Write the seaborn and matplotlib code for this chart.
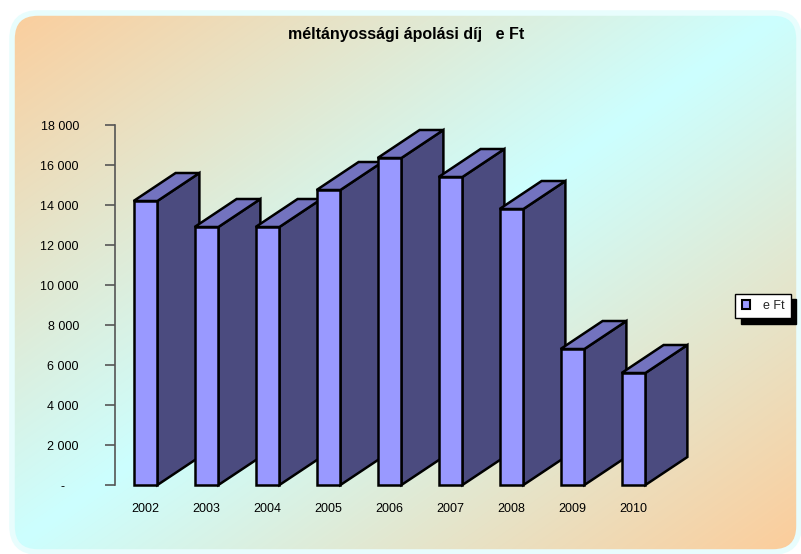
import numpy as np
import pandas as pd
import matplotlib
matplotlib.use("Agg")
import matplotlib.pyplot as plt
import seaborn as sns
from matplotlib.patches import FancyBboxPatch, Polygon, Patch

# ---- data ----
years = ["2002", "2003", "2004", "2005", "2006", "2007", "2008", "2009", "2010"]
values = [14200, 12900, 12900, 14750, 16350, 15400, 13800, 6800, 5600]
yticks = [0, 2000, 4000, 6000, 8000, 10000, 12000, 14000, 16000, 18000]
ytick_labels = ["-    ", "2 000", "4 000", "6 000", "8 000", "10 000",
                "12 000", "14 000", "16 000", "18 000"]
title = "méltányossági ápolási díj   e Ft"
legend_label = "e Ft"

sns.set_theme(style="white")
plt.rcParams["font.family"] = ["Liberation Sans", "DejaVu Sans"]

W, H = 801, 554
fig = plt.figure(figsize=(W / 100, H / 100), dpi=100)
fig.patch.set_facecolor("white")

# ---- background: rounded rectangle with diagonal gradient ----
bg = fig.add_axes([0, 0, 1, 1])
bg.set_xlim(0, W)
bg.set_ylim(H, 0)
bg.axis("off")
peach = np.array([253, 204, 153]) / 255
cyan = np.array([204, 255, 255]) / 255
yy, xx = np.mgrid[0:H, 0:W]
u = (xx / W + yy / H) / 2
t = np.clip(np.abs(u - 0.5) * 2, 0, 1)[..., None]
img = cyan + (peach - cyan) * t
rect = FancyBboxPatch((12, 13), W - 14, H - 15,
                      boxstyle="round,pad=0,rounding_size=26",
                      facecolor="none", edgecolor="#E8FDFD", linewidth=4)
bg.add_patch(rect)
im = bg.imshow(img, extent=(0, W, H, 0), interpolation="bilinear", zorder=0)
im.set_clip_path(rect)

# ---- main axes ----
ax = fig.add_axes([115 / W, 69 / H, 549 / W, 360 / H])
ax.patch.set_alpha(0)
df = pd.DataFrame({"year": years, "value": values})
front_col = "#9999FF"
side_col = "#4B4B7F"
top_col = "#7373BF"
sns.barplot(data=df, x="year", y="value", color=front_col, saturation=1,
            width=0.39, edgecolor="black", linewidth=1.8, ax=ax)
ax.set_xlim(-0.5, 8.5)
ax.set_ylim(0, 18000)

dx = 42 / 61.0          # depth in category units
dy = 28 / 20.0 * 1000   # depth in data units
for i, p in enumerate(ax.patches):
    x0 = p.get_x()
    x1 = x0 + p.get_width()
    h = p.get_height()
    p.set_zorder(3 + 2 * i)
    p.set_clip_on(False)
    side = Polygon([(x1, 0), (x1 + dx, dy), (x1 + dx, h + dy), (x1, h)],
                   closed=True, facecolor=side_col, edgecolor="black",
                   linewidth=1.8, joinstyle="miter", zorder=2 + 2 * i, clip_on=False)
    top = Polygon([(x0, h), (x0 + dx, h + dy), (x1 + dx, h + dy), (x1, h)],
                  closed=True, facecolor=top_col, edgecolor="black",
                  linewidth=1.8, joinstyle="miter", zorder=2 + 2 * i, clip_on=False)
    ax.add_patch(side)
    ax.add_patch(top)

for s in ["top", "right", "bottom"]:
    ax.spines[s].set_visible(False)
ax.spines["left"].set_color("#555555")
ax.spines["left"].set_linewidth(1.2)
ax.set_yticks(yticks)
ax.set_yticklabels(ytick_labels)
ax.tick_params(axis="y", length=7, width=1.2, color="#555555", direction="out",
               pad=19, labelsize=9, labelcolor="black", left=True)
ax.tick_params(axis="x", length=0, pad=13, labelsize=9, labelcolor="black")
ax.set_xlabel("")
ax.set_ylabel("")
ax.grid(False)

# ---- title ----
fig.text(406 / W, 1 - 34 / H, title, ha="center", va="center",
         fontsize=11.5, fontweight="bold", color="black")

# ---- legend ----
handle = Patch(facecolor=front_col, edgecolor="black", linewidth=1.5)
leg = fig.legend([handle], [legend_label], loc="center",
                 bbox_to_anchor=(763 / W, 1 - 306 / H),
                 fontsize=9, frameon=True, fancybox=False,
                 shadow={"color": "black", "alpha": 1, "ox": 4.0, "oy": -4.0},
                 handlelength=0.7, handleheight=0.7, handletextpad=1.0,
                 borderpad=0.5, borderaxespad=0)
leg.get_frame().set_edgecolor("black")
leg.get_frame().set_linewidth(1.0)
leg.get_frame().set_facecolor("white")
leg.get_frame().set_alpha(1)

fig.savefig("out.png", dpi=100)
